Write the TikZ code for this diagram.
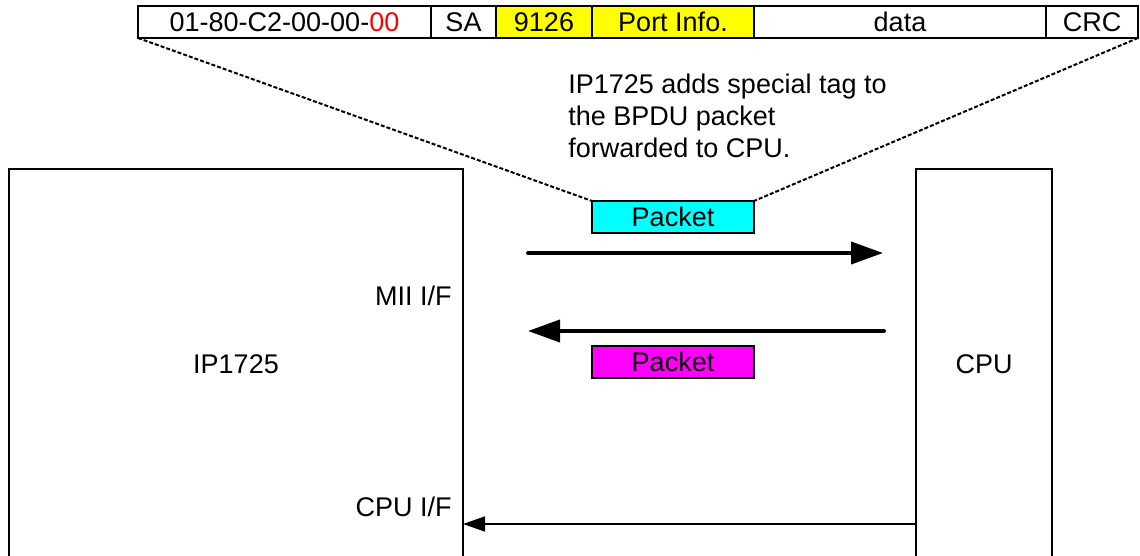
\documentclass[tikz,border=0pt]{standalone}
\usepackage{fontspec}
\setmainfont{Liberation Sans}
\usepackage{tikz}
\usepackage{xcolor}
\usetikzlibrary{positioning,arrows.meta}
\definecolor{tagyellow}{RGB}{255,255,0}
\definecolor{upcyan}{RGB}{0,255,255}
\definecolor{downmagenta}{RGB}{255,0,255}
\definecolor{crcred}{RGB}{255,0,0}
\tikzset{
    frame-field/.style = {draw, line width=0.7pt, rectangle, outer sep=0pt, inner sep=0pt, minimum height=16pt},
    unit-box/.style = {draw, line width=0.7pt, rectangle, outer sep=0pt, minimum height=195pt},
    packet-box/.style = {draw, line width=0.6pt, rectangle, outer sep=0pt, inner sep=0pt, minimum width=81pt, minimum height=16pt},
    flow-arrow/.style = {line width=2pt, line cap=round, -{Triangle[length=16pt,width=11pt]}},
    if-arrow/.style = {line width=0.8pt, -{Triangle[length=11pt,width=7.5pt]}},
    tag-line/.style = {line width=1pt, dash pattern=on 2pt off 1pt},
}

\begin{document}
\begin{tikzpicture}[x=0.5pt, y=-0.5pt, font=\fontsize{13.5}{16}\selectfont]
\clip (0,0) rectangle (1140,556);
\node [frame-field, minimum width=146.5pt, anchor=north west] (da) at (138,6) {01-80-C2-00-00-\textcolor{crcred}{00}};
\node [frame-field, minimum width=32.5pt, right=0pt of da] (sa) {SA};
\node [frame-field, fill=tagyellow, minimum width=48pt, right=0pt of sa] (tagtype) {9126};
\node [frame-field, fill=tagyellow, minimum width=81pt, right=0pt of tagtype] (portinfo) {Port Info.};
\node [frame-field, minimum width=146pt, right=0pt of portinfo] (data) {data};
\node [frame-field, minimum width=46pt, right=0pt of data] (crc) {CRC};

\node [unit-box, minimum width=227pt, anchor=north west] (ip) at (9,169) {IP1725};
\node [unit-box, minimum width=68pt, anchor=north west] (cpu) at (916,169) {CPU};
\node [anchor=east, inner sep=0pt] (mii) at (452,296) {MII I/F};
\node [anchor=east, inner sep=0pt] (cpuif) at (452,507) {CPU I/F};

\node [packet-box, fill=upcyan, anchor=north west] (uppkt) at (592,201) {Packet};
\node [packet-box, fill=downmagenta, anchor=north west] (downpkt) at (592,346) {Packet};
\node [anchor=north west, inner sep=0pt, align=left] (note) at (568,74) {IP1725 adds special tag to\\the BPDU packet\\forwarded to CPU.};

\draw [tag-line] (da.south west) -- (uppkt.north west);
\draw [tag-line] (crc.south east) -- (uppkt.north east);

\coordinate (fwd-start) at (528,253);
\coordinate (fwd-end) at (883,253);
\coordinate (back-start) at (884,331);
\coordinate (back-end) at (528,331);
\draw [flow-arrow] (fwd-start) -- (fwd-end);
\draw [flow-arrow] (back-start) -- (back-end);

\coordinate (cpuin) at (916,524);
\draw [if-arrow] (cpuin) -- (cpuin -| ip.east);
\end{tikzpicture}
\end{document}
